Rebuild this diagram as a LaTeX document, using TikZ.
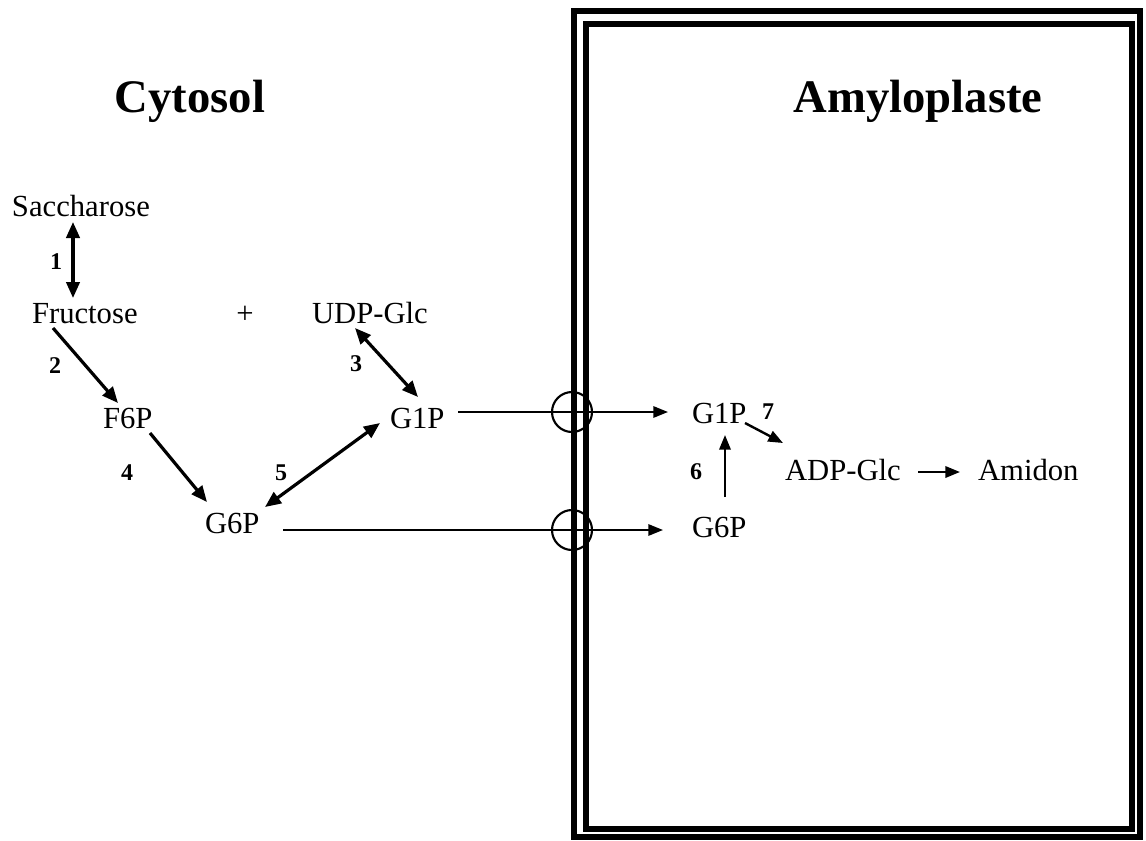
\documentclass[tikz,border=0pt]{standalone}
\usepackage{fontspec}
\setmainfont{Liberation Serif}
\usetikzlibrary{arrows.meta}
\begin{document}
\begin{tikzpicture}[x=0.75pt,y=-0.75pt,
  every node/.style={inner sep=0pt,outer sep=0pt},
  met/.style={anchor=base west,font=\fontsize{23}{26}\selectfont},
  title/.style={anchor=base,font=\fontsize{35}{40}\selectfont\bfseries},
  num/.style={font=\fontsize{18}{20}\selectfont\bfseries},
  head/.style={Triangle[length=12pt,width=10pt]},
  react/.style={line width=2.4pt,-{Triangle[length=12pt,width=10pt]}},
  rev/.style={line width=2.4pt,{Triangle[length=12pt,width=10pt]}-{Triangle[length=12pt,width=10pt]}},
  trans/.style={line width=1.5pt,-{Triangle[length=11pt,width=8.5pt]}},
  thin/.style={line width=1.8pt,-{Triangle[length=11pt,width=8.5pt]}},
  wall/.style={line width=4.8pt},
  carrier/.style={line width=1.6pt}]
\useasboundingbox (0,0) rectangle (1146,840);
% amyloplast double envelope
\draw[wall] (574,11) rectangle (1140,837);
\draw[wall] (586,24) rectangle (1132,829);
% compartment titles
\node[title] (tcyt) at (190,112) {Cytosol};
\node[title] (tamy) at (918,112) {Amyloplaste};
% cytosolic metabolites
\node[met] (sac) at (12,216) {Saccharose};
\node[met] (fru) at (32,323) {Fructose};
\node[anchor=center,font=\fontsize{23}{26}\selectfont] (plus) at (245,315) {+};
\node[met] (udp) at (312,323) {UDP-Glc};
\node[met] (f6p) at (103,428) {F6P};
\node[met] (g1c) at (390,428) {G1P};
\node[met] (g6c) at (205,533) {G6P};
% plastidial metabolites
\node[met] (g1a) at (692,423) {G1P};
\node[met] (g6a) at (692,537) {G6P};
\node[met] (adp) at (785,480) {ADP-Glc};
\node[met] (ami) at (978,480) {Amidon};
% enzyme numbers
\node[num] (n1) at (56,262) {1};
\node[num] (n2) at (55,366) {2};
\node[num] (n3) at (356,364) {3};
\node[num] (n4) at (127,473) {4};
\node[num] (n5) at (281,473) {5};
\node[num] (n6) at (696,472) {6};
\node[num] (n7) at (768,412) {7};
% anchor points of the reaction arrows
\coordinate (sacb) at (73,222);
\coordinate (frut) at (73,298);
\coordinate (frub) at (53,328);
\coordinate (f6pt) at (118,403);
\coordinate (udpb) at (355,328);
\coordinate (g1ct) at (418,397);
\coordinate (f6pb) at (150,433);
\coordinate (g6ct) at (207,502);
\coordinate (g6cr) at (265,507);
\coordinate (g1cl) at (380,423);
\coordinate (g1ce) at (458,412);
\coordinate (g1aw) at (668,412);
\coordinate (g6ce) at (283,530);
\coordinate (g6aw) at (663,530);
\coordinate (g6an) at (725,497);
\coordinate (g1as) at (725,435);
\coordinate (g1ae) at (745,423);
\coordinate (adpn) at (783,443);
\coordinate (adpe) at (918,472);
\coordinate (amiw) at (960,472);
% translocators in the envelope
\node[draw,carrier,circle,minimum size=40*0.75pt] (tc1) at (572,412) {};
\node[draw,carrier,circle,minimum size=40*0.75pt] (tc2) at (572,530) {};
% reactions
\draw[rev] (sacb) -- (frut);
\draw[react] (frub) -- (f6pt);
\draw[rev] (udpb) -- (g1ct);
\draw[react] (f6pb) -- (g6ct);
\draw[rev] (g6cr) -- (g1cl);
\draw[trans] (g1ce) -- (g1aw);
\draw[trans] (g6ce) -- (g6aw);
\draw[thin] (g6an) -- (g1as);
\draw[thin] (g1ae) -- (adpn);
\draw[thin] (adpe) -- (amiw);
\end{tikzpicture}
\end{document}
